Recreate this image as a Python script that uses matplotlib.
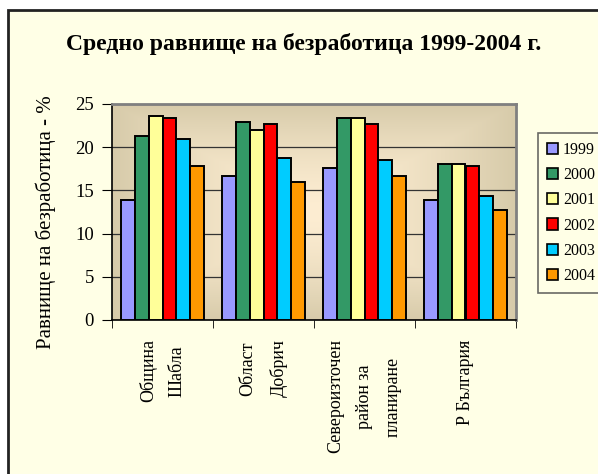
import numpy as np
import matplotlib.pyplot as plt
from matplotlib.patches import Patch, Rectangle

# данные с картинки (приблизительно)
regions = ['Община\nШабла', 'Област\nДобрич', 'Североизточен\nрайон за\nпланиране', 'Р България']
years = ['1999', '2000', '2001', '2002', '2003', '2004']
v1999 = [13.9, 16.7, 17.6, 13.9]
v2000 = [21.3, 22.9, 23.35, 18.05]
v2001 = [23.6, 22.0, 23.35, 18.05]
v2002 = [23.4, 22.7, 22.7, 17.8]
v2003 = [21.0, 18.75, 18.5, 14.35]
v2004 = [17.8, 16.0, 16.7, 12.7]
series = [v1999, v2000, v2001, v2002, v2003, v2004]
colors = ['#9999FF', '#339966', '#FFFF99', '#FF0000', '#00CCFF', '#FF9900']

bg = '#FFFFE6'
plt.rcParams['font.family'] = ['Liberation Serif', 'DejaVu Serif']

fig = plt.figure(figsize=(5.98, 4.74), dpi=100)
fig.patch.set_facecolor('white')
fig.patches.append(Rectangle((8 / 598, -0.1), 1.2, 1 - 10 / 474 + 0.1, transform=fig.transFigure,
                             facecolor=bg, edgecolor='#222222', lw=2, zorder=-5))

ax = fig.add_axes([112 / 598, 1 - 320 / 474, 404 / 598, 216 / 474])
ax.set_facecolor('none')

# градиент фона области построения
n = 200
xx, yy = np.meshgrid(np.linspace(-1, 1, n), np.linspace(-1, 1, n))
d = np.maximum(np.abs(xx), np.abs(yy)) ** 1.5
edge = np.array([215, 203, 170]) / 255
center = np.array([253, 237, 210]) / 255
img = center[None, None, :] * (1 - d[..., None]) + edge[None, None, :] * d[..., None]
ax.imshow(img, extent=[-0.5, 3.5, 0, 25], aspect='auto', zorder=0)

x = np.arange(len(regions))
w = 0.137
for i, (vals, c) in enumerate(zip(series, colors)):
    ax.bar(x + (i - 2.5) * w, vals, w, color=c, edgecolor='black', lw=1.4, zorder=3, label=years[i])

ax.set_xlim(-0.5, 3.5)
ax.set_ylim(0, 25)
ax.set_yticks(range(0, 26, 5))
ax.yaxis.grid(True, color='#333333', lw=0.9)
for ln in ax.get_ygridlines():
    ln.set_zorder(1)

ax.set_xticks(x)
ax.set_xticklabels(regions, rotation=90, va='top', ha='center', multialignment='center',
                   linespacing=1.9, fontsize=13)
ax.set_xticks(np.arange(-0.5, 4, 1), minor=True)
ax.tick_params(axis='x', which='major', length=0, pad=14)
ax.tick_params(axis='x', which='minor', length=6, direction='out', color='black')
ax.tick_params(axis='y', length=7, direction='out', labelsize=13.5, pad=6, color='black')

for s in ['top', 'right']:
    ax.spines[s].set_color('#808080')
    ax.spines[s].set_linewidth(2)
for s in ['left', 'bottom']:
    ax.spines[s].set_color('black')
    ax.spines[s].set_linewidth(1.2)

fig.text(304 / 598, 1 - 44 / 474, 'Средно равнище на безработица 1999-2004 г.',
         ha='center', va='center', fontsize=17, fontweight='bold')
fig.text(46 / 598, 1 - 222 / 474, 'Равнище на безработица - %', rotation=90,
         ha='center', va='center', fontsize=15)

handles = [Patch(facecolor=c, edgecolor='black', lw=1.2) for c in colors]
leg = fig.legend(handles, years, loc='upper left', bbox_to_anchor=(538 / 598, 1 - 133 / 474),
                 fontsize=11.5, frameon=True, fancybox=False, handlelength=0.7, handleheight=0.7,
                 handletextpad=0.3, labelspacing=0.58, borderpad=0.55, borderaxespad=0)
leg.get_frame().set_facecolor(bg)
leg.get_frame().set_edgecolor('#444444')
leg.get_frame().set_linewidth(1.2)

fig.savefig('out.png', dpi=100, facecolor=fig.get_facecolor())
